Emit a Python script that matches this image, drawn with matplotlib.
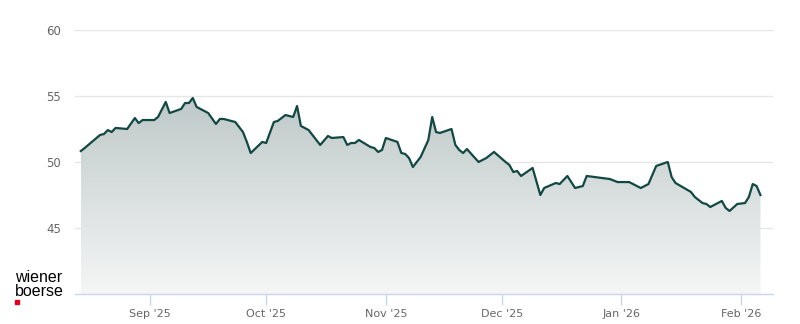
import numpy as np
import pandas as pd
import matplotlib
matplotlib.use("Agg")
import matplotlib.pyplot as plt
import matplotlib.dates as mdates
from matplotlib.colors import LinearSegmentedColormap

# price series
dates = ["2025-08-14", "2025-08-15", "2025-08-19", "2025-08-20", "2025-08-21",
         "2025-08-22", "2025-08-23", "2025-08-26", "2025-08-28", "2025-08-29",
         "2025-08-30", "2025-09-02", "2025-09-03", "2025-09-05", "2025-09-06",
         "2025-09-09", "2025-09-10", "2025-09-11", "2025-09-12", "2025-09-13",
         "2025-09-16", "2025-09-18", "2025-09-19", "2025-09-20", "2025-09-23",
         "2025-09-25", "2025-09-26", "2025-09-27", "2025-09-30", "2025-10-01",
         "2025-10-03", "2025-10-04", "2025-10-06", "2025-10-08", "2025-10-09",
         "2025-10-10", "2025-10-12", "2025-10-15", "2025-10-17", "2025-10-18",
         "2025-10-21", "2025-10-22", "2025-10-23", "2025-10-24", "2025-10-25",
         "2025-10-28", "2025-10-29", "2025-10-30", "2025-10-31", "2025-11-01",
         "2025-11-04", "2025-11-05", "2025-11-06", "2025-11-07", "2025-11-08",
         "2025-11-10", "2025-11-12", "2025-11-13", "2025-11-14", "2025-11-15",
         "2025-11-18", "2025-11-19", "2025-11-20", "2025-11-21", "2025-11-22",
         "2025-11-25", "2025-11-27", "2025-11-29", "2025-12-02", "2025-12-03",
         "2025-12-04", "2025-12-05", "2025-12-06", "2025-12-09", "2025-12-11",
         "2025-12-12", "2025-12-15", "2025-12-16", "2025-12-18", "2025-12-20",
         "2025-12-22", "2025-12-23", "2025-12-29", "2025-12-31", "2026-01-03",
         "2026-01-06", "2026-01-08", "2026-01-10", "2026-01-13", "2026-01-14",
         "2026-01-15", "2026-01-19", "2026-01-20", "2026-01-22", "2026-01-23",
         "2026-01-24", "2026-01-27", "2026-01-28", "2026-01-29", "2026-01-31",
         "2026-02-02", "2026-02-03", "2026-02-04", "2026-02-05", "2026-02-06"]
prices = [50.83, 51.06, 52.05, 52.12, 52.42, 52.27, 52.58, 52.50, 53.33, 52.95,
          53.18, 53.18, 53.41, 54.55, 53.71, 54.02, 54.47, 54.47, 54.85, 54.17,
          53.71, 52.88, 53.26, 53.26, 53.03, 52.27, 51.52, 50.68, 51.52, 51.44,
          53.03, 53.11, 53.56, 53.41, 54.24, 52.73, 52.42, 51.29, 51.97, 51.82,
          51.89, 51.29, 51.44, 51.44, 51.67, 51.14, 51.06, 50.76, 50.91, 51.82,
          51.52, 50.68, 50.61, 50.30, 49.62, 50.38, 51.67, 53.41, 52.27, 52.20,
          52.50, 51.29, 50.91, 50.68, 50.98, 50.00, 50.30, 50.76, 50.00, 49.77,
          49.24, 49.32, 48.94, 49.55, 47.50, 48.03, 48.41, 48.33, 48.94, 48.03,
          48.18, 48.94, 48.71, 48.48, 48.48, 48.03, 48.33, 49.70, 50.00, 48.86,
          48.41, 47.73, 47.35, 46.89, 46.82, 46.59, 47.05, 46.52, 46.29, 46.82,
          46.89, 47.35, 48.33, 48.18, 47.50]
yticks = [45, 50, 55, 60]
month_ticks = ["2025-09-01", "2025-10-01", "2025-11-01", "2025-12-01", "2026-01-01", "2026-02-01"]
month_labels = ["Sep '25", "Oct '25", "Nov '25", "Dec '25", "Jan '26", "Feb '26"]

x = mdates.date2num(pd.to_datetime(dates))
y = np.array(prices)

fig = plt.figure(figsize=(8, 3.24), dpi=100)
ax = fig.add_axes([75/800, 1-294/324, 698/800, 264/324])

xmin = mdates.date2num(pd.Timestamp("2025-08-12 12:00"))
xmax = mdates.date2num(pd.Timestamp("2026-02-09 06:00"))
ax.set_xlim(xmin, xmax)
ax.set_ylim(40, 60)

# gradient fill under the line
cmap = LinearSegmentedColormap.from_list("g", ["#f5f6f6", "#bec8c8"])
grad = np.linspace(0, 1, 256).reshape(-1, 1)
img = ax.imshow(grad, cmap=cmap, aspect="auto", origin="lower",
                extent=[x[0], x[-1], 40, 55], zorder=1)
clip = plt.Polygon(np.column_stack([np.r_[x, x[-1], x[0]], np.r_[y, 40, 40]]),
                   transform=ax.transData, facecolor="none", edgecolor="none")
ax.add_patch(clip)
img.set_clip_path(clip)

ax.plot(x, y, color="#124843", lw=1.6, zorder=3)

for v in yticks:
    ax.axhline(v, color="#e6e6e6", lw=1, zorder=0)

ax.set_yticks(yticks)
ax.set_yticklabels([str(v) for v in yticks])
ax.tick_params(axis="y", length=0, pad=10, labelsize=8.5, labelcolor="#666666")
ax.set_xticks(mdates.date2num(pd.to_datetime(month_ticks)))
ax.set_xticklabels(month_labels)
ax.tick_params(axis="x", length=8, width=1, color="#ccd6eb", pad=3,
               labelsize=8, labelcolor="#666666")

for s in ["top", "right", "left"]:
    ax.spines[s].set_visible(False)
ax.spines["bottom"].set_color("#ccd6eb")
ax.spines["bottom"].set_linewidth(1)

# logo
fig.text(15/800, 1-277/324, "wiener", fontsize=11.5, color="#000000",
         family="Liberation Sans", va="center", ha="left")
fig.text(15/800, 1-292/324, "boerse", fontsize=11.5, color="#000000",
         family="Liberation Sans", va="center", ha="left")
fig.patches.append(plt.Rectangle((15/800, 1-304/324), 4/800, 4/324,
                                 transform=fig.transFigure, color="#e2001a"))

fig.savefig("out.png", dpi=100)
